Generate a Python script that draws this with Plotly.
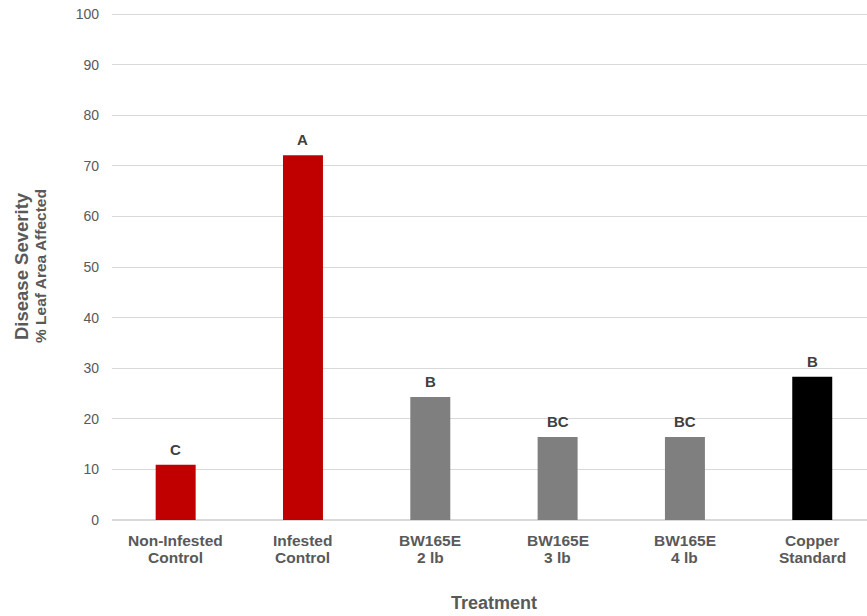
import plotly.graph_objects as go

categories = ["Non-Infested Control", "Infested Control", "BW165E 2 lb", "BW165E 3 lb", "BW165E 4 lb", "Copper Standard"]
label_line1 = ["Non-Infested", "Infested", "BW165E", "BW165E", "BW165E", "Copper"]
label_line2 = ["Control", "Control", "2 lb", "3 lb", "4 lb", "Standard"]
values = [10.9, 72.1, 24.3, 16.4, 16.4, 28.3]
letters = ["C", "A", "B", "BC", "BC", "B"]
colors = ["#c00000", "#c00000", "#7f7f7f", "#7f7f7f", "#7f7f7f", "#000000"]
y_ticks = [0, 10, 20, 30, 40, 50, 60, 70, 80, 90, 100]

FONT = "Arial, Liberation Sans, sans-serif"
GREY = "#595959"

fig = go.Figure()
fig.add_trace(go.Bar(
    x=categories, y=values, marker=dict(color=colors, line=dict(width=0)),
    width=0.314, showlegend=False, hoverinfo="skip",
))

for c, v, l in zip(categories, values, letters):
    fig.add_annotation(x=c, y=v, text="<b>%s</b>" % l, showarrow=False,
                       yanchor="bottom", yshift=5,
                       font=dict(family=FONT, size=15, color="#404040"))

for c, l1, l2 in zip(categories, label_line1, label_line2):
    fig.add_annotation(x=c, xref="x", yref="paper", y=0, yanchor="middle",
                       yshift=-20.5, text="<b>%s</b>" % l1, showarrow=False,
                       font=dict(family=FONT, size=15.5, color=GREY))
    fig.add_annotation(x=c, xref="x", yref="paper", y=0, yanchor="middle",
                       yshift=-37.5, text="<b>%s</b>" % l2, showarrow=False,
                       font=dict(family=FONT, size=15.5, color=GREY))

fig.add_annotation(xref="x", yref="paper", x=2.5, y=0, xanchor="center",
                   yanchor="middle", yshift=-83,
                   text="<b>Treatment</b>", showarrow=False,
                   font=dict(family=FONT, size=18, color=GREY))
fig.add_annotation(xref="paper", yref="paper", x=0, y=0.5, xanchor="center",
                   yanchor="middle", xshift=-91,
                   text="<b>Disease Severity</b>", textangle=-90, showarrow=False,
                   font=dict(family=FONT, size=18.5, color=GREY))
fig.add_annotation(xref="paper", yref="paper", x=0, y=0.5, xanchor="center",
                   yanchor="middle", xshift=-72,
                   text="<b>% Leaf Area Affected</b>", textangle=-90, showarrow=False,
                   font=dict(family=FONT, size=15.5, color=GREY))

fig.update_layout(
    width=867, height=616,
    margin=dict(l=112, r=0, t=12, b=96, autoexpand=False),
    plot_bgcolor="white", paper_bgcolor="white",
    font=dict(family=FONT, color=GREY),
    xaxis=dict(range=[-0.5, 5.43], showticklabels=False, showgrid=False,
               showline=False, ticks="", fixedrange=True),
    yaxis=dict(range=[0, 100.4], tickvals=y_ticks, showgrid=True, gridcolor="#d9d9d9",
               gridwidth=1, zeroline=True, zerolinecolor="#d9d9d9", zerolinewidth=2,
               tickfont=dict(family=FONT, size=14, color=GREY), ticks="",
               ticklabelstandoff=12, fixedrange=True),
)

fig.write_html("out.html", config={"displayModeBar": False},
               post_script="document.body.style.margin='0px';document.body.style.overflow='hidden';")
